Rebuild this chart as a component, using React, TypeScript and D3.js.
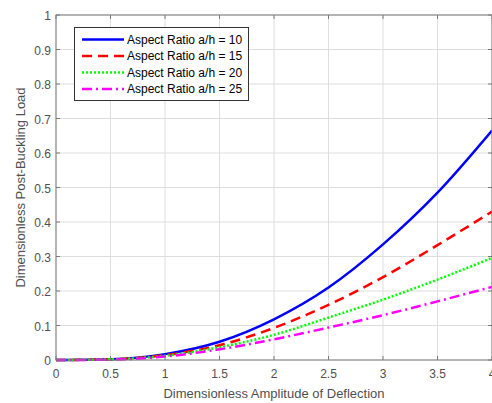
import React from "react";
import * as d3 from "d3";

const xValues = [0, 0.5, 1, 1.5, 2, 2.5, 3, 3.5, 4];
const ratio10 = [0, 0.002, 0.017, 0.053, 0.118, 0.21, 0.335, 0.485, 0.665];
const ratio15 = [0, 0.002, 0.014, 0.043, 0.093, 0.16, 0.24, 0.333, 0.43];
const ratio20 = [0, 0.002, 0.012, 0.037, 0.073, 0.123, 0.175, 0.233, 0.296];
const ratio25 = [0, 0.001, 0.01, 0.031, 0.06, 0.094, 0.13, 0.17, 0.212];
const seriesNames = [
  "Aspect Ratio a/h = 10",
  "Aspect Ratio a/h = 15",
  "Aspect Ratio a/h = 20",
  "Aspect Ratio a/h = 25",
];
const xTicks = [0, 0.5, 1, 1.5, 2, 2.5, 3, 3.5, 4];
const yTicks = [0, 0.1, 0.2, 0.3, 0.4, 0.5, 0.6, 0.7, 0.8, 0.9, 1];

const W = 492;
const H = 403;
const left = 56;
const right = 492;
const top = 15;
const bottom = 360;
const axisColor = "#7a7a7a";
const textColor = "#4f4f4f";
const font = "'Liberation Sans', Arial, sans-serif";

const styles = [
  { color: "#0000ff", dash: "none" },
  { color: "#ff0000", dash: "10,6" },
  { color: "#00ff00", dash: "2,2" },
  { color: "#ff00ff", dash: "10,4,2,4" },
];

export default function App() {
  const x = d3.scaleLinear().domain([0, 4]).range([left, right]);
  const y = d3.scaleLinear().domain([0, 1]).range([bottom, top]);
  const allSeries = [ratio10, ratio15, ratio20, ratio25];
  const line = d3
    .line<[number, number]>()
    .x((d) => x(d[0]))
    .y((d) => y(d[1]))
    .curve(d3.curveMonotoneX);

  const fmt = (v: number) => (v === 0 ? "0" : String(v));

  return (
    <svg
      width={W}
      height={H}
      style={{ position: "absolute", left: 0, top: 0, background: "#fff" }}
      fontFamily={font}
    >
      <rect x={0} y={0} width={W} height={H} fill="#fff" />
      {/* grid */}
      {xTicks.map((t) => (
        <line key={"gx" + t} x1={x(t)} x2={x(t)} y1={top} y2={bottom} stroke="#dedede" strokeWidth={1} />
      ))}
      {yTicks.map((t) => (
        <line key={"gy" + t} x1={left} x2={right} y1={y(t)} y2={y(t)} stroke="#dedede" strokeWidth={1} />
      ))}
      {/* series */}
      {allSeries.map((s, i) => (
        <path
          key={"s" + i}
          d={line(xValues.map((xv, j) => [xv, s[j]] as [number, number])) || ""}
          fill="none"
          stroke={styles[i].color}
          strokeWidth={2.5}
          strokeDasharray={styles[i].dash}
        />
      ))}
      {/* axes box */}
      <rect x={left} y={top} width={right - left} height={bottom - top} fill="none" stroke={axisColor} strokeWidth={1} />
      {xTicks.map((t) => (
        <g key={"tx" + t}>
          <line x1={x(t)} x2={x(t)} y1={bottom} y2={bottom - 4} stroke={axisColor} />
          <line x1={x(t)} x2={x(t)} y1={top} y2={top + 4} stroke={axisColor} />
          <text x={x(t)} y={bottom + 18} textAnchor="middle" fontSize={12} fill={textColor}>
            {fmt(t)}
          </text>
        </g>
      ))}
      {yTicks.map((t) => (
        <g key={"ty" + t}>
          <line x1={left} x2={left + 4} y1={y(t)} y2={y(t)} stroke={axisColor} />
          <line x1={right} x2={right - 4} y1={y(t)} y2={y(t)} stroke={axisColor} />
          <text x={left - 5} y={y(t) + 5} textAnchor="end" fontSize={12} fill={textColor}>
            {fmt(t)}
          </text>
        </g>
      ))}
      {/* axis titles */}
      <text x={(left + right) / 2} y={398} textAnchor="middle" fontSize={13} fill={textColor}>
        Dimensionless Amplitude of Deflection
      </text>
      <text
        transform={`translate(25, ${(top + bottom) / 2}) rotate(-90)`}
        textAnchor="middle"
        fontSize={13}
        fill={textColor}
      >
        Dimensionless Post-Buckling Load
      </text>
      {/* legend */}
      <rect x={74.5} y={27.5} width={174} height={73} fill="#fff" stroke="#333" strokeWidth={1} />
      {seriesNames.map((name, i) => {
        const ly = 39.5 + i * 16.5;
        return (
          <g key={"l" + i}>
            <line
              x1={82}
              x2={124}
              y1={ly}
              y2={ly}
              stroke={styles[i].color}
              strokeWidth={2.5}
              strokeDasharray={styles[i].dash}
            />
            <text x={127} y={ly + 4} fontSize={12} fill="#000">
              {name}
            </text>
          </g>
        );
      })}
    </svg>
  );
}
